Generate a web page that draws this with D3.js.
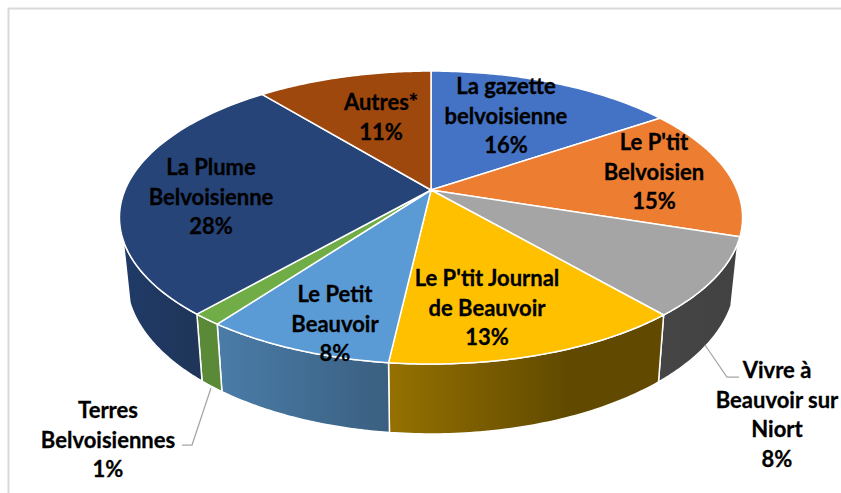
<!DOCTYPE html>
<html>
<head>
<meta charset="utf-8">
<script src="https://cdn.jsdelivr.net/npm/d3@7"></script>
<style>
html,body{margin:0;padding:0;background:#fff;overflow:hidden}
svg{display:block}
text{font-family:Lato,"Open Sans",sans-serif;font-weight:700;font-size:22px;fill:#000;stroke:#000;stroke-width:0.3px;text-anchor:middle;dominant-baseline:central}
</style>
</head>
<body>
<script>
const categories = ["La gazette belvoisienne","Le P'tit Belvoisien","Vivre à Beauvoir sur Niort","Le P'tit Journal de Beauvoir","Le Petit Beauvoir","Terres Belvoisiennes","La Plume Belvoisienne","Autres*"];
// Printed labels
const percents = [16,15,8,13,8,1,28,11];
// Slice sizes as measured on the picture
const shares = [15.5,14.55,8.65,13.1,8.3,1.3,27.7,10.9];
const labelLines = [["La gazette","belvoisienne"],["Le P'tit","Belvoisien"],["Vivre à","Beauvoir sur","Niort"],["Le P'tit Journal","de Beauvoir"],["Le Petit","Beauvoir"],["Terres","Belvoisiennes"],["La Plume","Belvoisienne"],["Autres*"]];
const topColors = ["#4472C4","#ED7D31","#A5A5A5","#FFC000","#5B9BD5","#70AD47","#264478","#9E480E"];
const wallLeft = ["#2a4a80","#a04f1a","#454545","#957100","#4a7ca8","#5a8a38","#203a68","#6a300a"];
const wallRight = ["#2a4a80","#a04f1a","#424242","#614a00","#3a5f80","#5a8a38","#1f3558","#6a300a"];
const labelCentres = [[506,85],[654,141],[777,369],[487,277],[335,293],[108,409],[211,166],[381,101]];
const leaders = {2:[[705,345],[727,377],[739,377]],5:[[211,388],[192,445],[182,445]]};

const W=841,H=493;
const svg=d3.select("body").append("svg").attr("width",W).attr("height",H);
const cx=431,cy=190,R=306,HH=141.3,k=0.188;
const wallStart=110.5*Math.PI/180, wallEnd=250.6*Math.PI/180;
const topPt=a=>{const u=Math.sin(a),v=-Math.cos(a),d=1-k*v;return [cx+R*u/d,cy+HH*v/d];};
const botPt=a=>{const p=topPt(a);return [cx+0.978*(p[0]-cx),249.5+1.06*(p[1]-cy)];};
const pie=d3.pie().sort(null).value(d=>d);
const arcs=pie(shares);
const line=d3.line();
const sample=(a0,a1,f)=>d3.range(0,61).map(i=>f(a0+(a1-a0)*i/60));

svg.append("path").attr("d","M8.5,493V8.5H841").attr("fill","none").attr("stroke","#d9d9d9").attr("stroke-width",2);

const defs=svg.append("defs");
// walls
const walls=svg.append("g");
arcs.forEach((d,i)=>{
  const a0=Math.max(d.startAngle,wallStart),a1=Math.min(d.endAngle,wallEnd);
  if(a1<=a0) return;
  const pts=sample(a0,a1,topPt).concat(sample(a0,a1,botPt).reverse());
  const xs=pts.map(p=>p[0]);
  const g=defs.append("linearGradient").attr("id","w"+i).attr("gradientUnits","userSpaceOnUse")
    .attr("x1",d3.min(xs)).attr("x2",d3.max(xs)).attr("y1",0).attr("y2",0);
  g.append("stop").attr("offset",0).attr("stop-color",wallLeft[i]);
  g.append("stop").attr("offset",i===3?0.65:1).attr("stop-color",wallRight[i]);
  walls.append("path").attr("d",line(pts)+"Z").attr("fill",`url(#w${i})`).attr("stroke","#fff").attr("stroke-width",1.5).attr("stroke-linejoin","round");
});
// top face
svg.append("g").selectAll("path").data(arcs).join("path")
  .attr("d",d=>line([[cx,cy]].concat(sample(d.startAngle,d.endAngle,topPt)))+"Z")
  .attr("fill",(d,i)=>topColors[i]).attr("stroke","#fff").attr("stroke-width",1.5).attr("stroke-linejoin","round");
// leaders
Object.values(leaders).forEach(p=>svg.append("path").attr("d",line(p)).attr("fill","none").attr("stroke","#a6a6a6").attr("stroke-width",1.25));
// labels
const lh=29.5;
const lab=svg.append("g");
percents.forEach((v,i)=>{
  const [x,y]=labelCentres[i];
  const t=lab.append("text");
  labelLines[i].concat([v+"%"]).forEach((s,j)=>t.append("tspan").attr("x",x).attr("y",y+j*lh).text(s));
});
</script>
</body>
</html>
